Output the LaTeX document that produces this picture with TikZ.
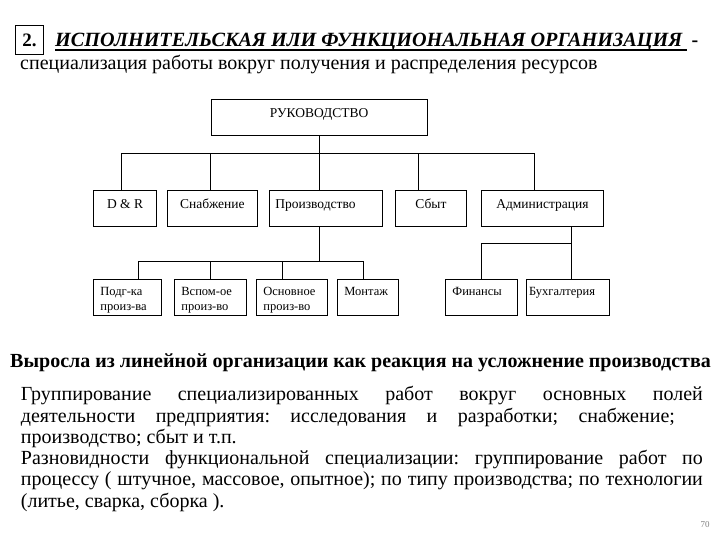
\documentclass[tikz,border=0pt]{standalone}
\usepackage{fontspec}
\setmainfont{Liberation Serif}
\newfontfamily\slidefont{Liberation Serif}
\usepackage{tikz}
\usetikzlibrary{positioning}
\frenchspacing

\begin{document}
\begin{tikzpicture}[x=1pt,y=-1pt]
		\tikzstyle{boss}=[draw, anchor=north west, line width=0.8pt, inner ysep=4pt, text height=13.4pt, text depth=14.3pt, font=\slidefont\fontsize{13.5}{16}\selectfont]
		\tikzstyle{dept}=[draw, anchor=north west, line width=0.8pt, inner ysep=4pt, text height=14pt, text depth=13.7pt, font=\slidefont\fontsize{13.5}{16}\selectfont]
		\tikzstyle{unit}=[draw, anchor=north west, line width=0.8pt, inner xsep=7pt, inner ysep=4pt, text height=12pt, text depth=16pt, align=left, font=\slidefont\fontsize{12.5}{15}\selectfont]
		\tikzstyle{connect}=[line width=0.8pt]
		\tikzstyle{line}=[anchor=base west, inner sep=0pt]
		\useasboundingbox (0,0) rectangle (720,540);
		
		% heading
		\node[draw, anchor=north west, line width=0.8pt, minimum width=28pt, minimum height=29pt, inner sep=0pt, font=\slidefont\bfseries\fontsize{19}{21}\selectfont] (num) at (15,25) {2.};
		\node[line, font=\slidefont\bfseries\itshape\fontsize{20.2}{22}\selectfont] (title) at (55,46.5) {ИСПОЛНИТЕЛЬСКАЯ ИЛИ ФУНКЦИОНАЛЬНАЯ ОРГАНИЗАЦИЯ};
		\draw[line width=1.2pt] ([yshift=-3.5pt]title.base west) -- ([yshift=-3.5pt, xshift=5pt]title.base east);
		\node[line, font=\slidefont\bfseries\fontsize{20}{22}\selectfont] (dash) at ([xshift=9pt]title.base east) {-};
		\node[line, font=\slidefont\fontsize{20}{22}\selectfont] (sub) at (20,70) {специализация работы вокруг получения и распределения ресурсов};
		
		% chart
		\node[boss, minimum width=216pt] (ruk) at (210.7,99.3) {РУКОВОДСТВО};
		
		\node[dept, minimum width=62.7pt] (dr) at (93.3,190) {D \& R};
		\node[dept, minimum width=90pt] (snab) at (167,190) {Снабжение};
		\node[dept, inner xsep=6pt, text width=101pt, align=left] (proizv) at (269,190) {Производство};
		\node[dept, minimum width=71pt] (sbyt) at (395,190) {Сбыт};
		\node[dept, minimum width=122.6pt] (admin) at (480.7,190) {Администрация};
		
		\node[unit, text width=54pt] (podg) at (93,279) {Подг-ка\\произ-ва};
		\node[unit, text width=58pt] (vspom) at (174,279) {Вспом-ое\\произ-во};
		\node[unit, text width=57pt] (osn) at (256,279) {Основное\\произ-во};
		\node[unit, text width=47pt] (mont) at (337,279) {Монтаж};
		\node[unit, text width=57.7pt] (fin) at (445,279) {Финансы};
		\node[unit, inner xsep=3pt, text width=77.6pt] (buh) at (525.7,279) {Бухгалтерия};
		
		\coordinate (bus) at (0,153);
		\coordinate (pbus) at (0,261.7);
		\coordinate (abus) at (0,243.3);
		
		\draw[connect] (ruk.south) -- (ruk.south |- proizv.north);
		\draw[connect] ([xshift=-4pt]dr.north) |- ([xshift=-7.7pt]admin.north |- bus) -- ([xshift=-7.7pt]admin.north);
		\draw[connect] ([xshift=-2pt]snab.north) -- ([xshift=-2pt]snab.north |- bus);
		\draw[connect] ([xshift=-12.5pt]sbyt.north) -- ([xshift=-12.5pt]sbyt.north |- bus);
		
		\draw[connect] (proizv.south -| ruk.south) -- (ruk.south |- pbus);
		\draw[connect] ([xshift=11.3pt]podg.north) |- ([xshift=-4.2pt]mont.north |- pbus) -- ([xshift=-4.2pt]mont.north);
		\draw[connect] (vspom.north) -- (vspom.north |- pbus);
		\draw[connect] ([xshift=-9.5pt]osn.north) -- ([xshift=-9.5pt]osn.north |- pbus);
		
		\draw[connect] ([xshift=3.2pt]buh.north |- admin.south) -- ([xshift=3.2pt]buh.north);
		\draw[connect] (fin.north) |- ([xshift=3.2pt]buh.north |- abus);
		
		% text below
		\node[line, font=\slidefont\bfseries\fontsize{20}{22}\selectfont] (grew) at (10,367) {Выросла из линейной организации как реакция на усложнение производства};
		\node[line, text width=682pt, align=justify, font=\slidefont\fontsize{20}{21.3}\selectfont] (body) at (20.7,400.7) {Группирование специализированных работ вокруг основных полей\linebreak деятельности предприятия: исследования и разработки; снабжение;\hspace*{28pt}\linebreak производство; сбыт и т.п.\par Разновидности функциональной специализации: группирование работ по\linebreak процессу ( штучное, массовое, опытное); по типу производства; по технологии\linebreak (литье, сварка, сборка ).};
		
		\node[text=gray, font=\slidefont\fontsize{9}{10}\selectfont] (page) at (705,525) {70};
	\end{tikzpicture}
\end{document}
